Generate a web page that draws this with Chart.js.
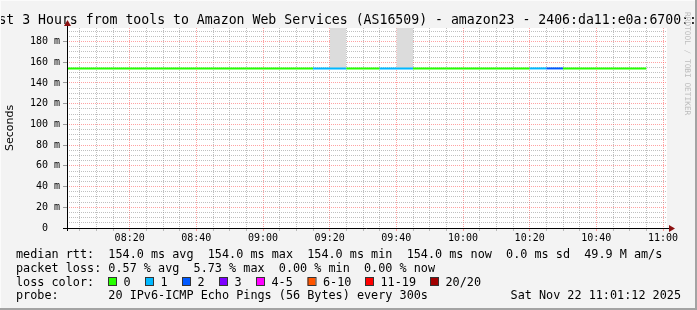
<!DOCTYPE html>
<html>
<head>
<meta charset="utf-8">
<script src="https://cdn.jsdelivr.net/npm/chart.js@4.4.0/dist/chart.umd.min.js"></script>
<style>
    html, body { margin: 0; padding: 0; background: #f3f3f3; }
    #wrap { width: 697px; height: 310px; }
</style>
</head>
<body>
<div id="wrap"><canvas id="smokeChart" width="697" height="310"></canvas></div>
<script>
// 5 minute slots, the last entry only closes the line
const slotTimes = ['08:00','08:05','08:10','08:15','08:20','08:25','08:30','08:35','08:40','08:45',
                   '08:50','08:55','09:00','09:05','09:10','09:15','09:20','09:25','09:30','09:35',
                   '09:40','09:45','09:50','09:55','10:00','10:05','10:10','10:15','10:20','10:25',
                   '10:30','10:35','10:40','10:45','10:50','10:55'];
const medianRtt = [154.0,154.0,154.0,154.0,154.0,154.0,154.0,154.0,154.0,154.0,
                   154.0,154.0,154.0,154.0,154.0,154.0,154.0,154.0,154.0,154.0,
                   154.0,154.0,154.0,154.0,154.0,154.0,154.0,154.0,154.0,154.0,
                   154.0,154.0,154.0,154.0,154.0,154.0];
const lostPings = [0,0,0,0,0,0,0,0,0,0,
                   0,0,0,0,0,1,1,0,0,1,
                   1,0,0,0,0,0,0,0,1,2,
                   0,0,0,0,0,0];
// top of the smoke (slowest ping), above the graph where it is drawn
const smokeTop = [null,null,null,null,null,null,null,null,null,null,
                  null,null,null,null,null,null,240,null,null,null,
                  240,null,null,null,null,null,null,null,null,null,
                  null,null,null,null,null,null];

const xTickLabels = ['08:20','08:40','09:00','09:20','09:40','10:00','10:20','10:40','11:00'];
const yTickValues = [0, 20, 40, 60, 80, 100, 120, 140, 160, 180];
const yTickLabels = ['0  ','20 m','40 m','60 m','80 m','100 m','120 m','140 m','160 m','180 m'];

const lossLabels = ['0', '1', '2', '3', '4-5', '6-10', '11-19', '20/20'];
const lossUpper  = [0, 1, 2, 3, 5, 10, 19, 20];
const lossColors = ['#26ff00', '#00b8ff', '#0059ff', '#7e00ff', '#ff00ff', '#ff5500', '#ff0000', '#a10000'];

const titleText = 'Last 3 Hours from tools to Amazon Web Services (AS16509) - amazon23 - 2406:da11:e0a:6700::';
const statLines = [
    'median rtt:  154.0 ms avg  154.0 ms max  154.0 ms min  154.0 ms now  0.0 ms sd  49.9 M am/s',
    'packet loss: 0.57 % avg  5.73 % max  0.00 % min  0.00 % now'
];
const probeText = 'probe:       20 IPv6-ICMP Echo Pings (56 Bytes) every 300s';
const stampText = 'Sat Nov 22 11:01:12 2025';

const startMin = 1.2, endMin = 181.2;   // 08:01:12 .. 11:01:12

function toMin(s) {
    let p = s.split(':');
    return (parseInt(p[0]) - 8) * 60 + parseInt(p[1]);
}
function lossColor(n) {
    for (let i = 0; i < lossUpper.length; i++)
        if (n <= lossUpper[i]) return lossColors[i];
    return lossColors[lossColors.length - 1];
}

// two points per slot so each slot becomes its own flat step
let medianPts = [];
let smokePts = [];
for (let i = 0; i < slotTimes.length - 1; i++) {
    let a = toMin(slotTimes[i]), b = toMin(slotTimes[i + 1]);
    medianPts.push({x: a, y: medianRtt[i]}, {x: b, y: medianRtt[i]});
    if (smokeTop[i] !== null)
        smokePts.push({x: a, y: smokeTop[i]}, {x: b, y: smokeTop[i]}, {x: b, y: null});
}

let xLabelAt = {};
xTickLabels.forEach(l => { xLabelAt[toMin(l)] = l; });
let yLabelAt = {};
yTickValues.forEach((v, i) => { yLabelAt[v] = yTickLabels[i]; });

const MONO = '"DejaVu Sans Mono", monospace';
const MAJOR = 'rgba(255, 70, 70, 0.5)';
const MINOR = 'rgba(130, 130, 130, 0.5)';

const decor = {
    id: 'decor',
    beforeDraw(chart) {
        const c = chart.ctx, a = chart.chartArea;
        c.save();
        c.fillStyle = '#f3f3f3';
        c.fillRect(0, 0, chart.width, chart.height);
        c.fillStyle = '#ffffff';
        c.fillRect(a.left, a.top, a.right - a.left, a.bottom - a.top);
        c.restore();
    },
    afterDraw(chart) {
        const c = chart.ctx, a = chart.chartArea;
        c.save();
        // axes with arrows
        c.strokeStyle = '#000';
        c.lineWidth = 1;
        c.beginPath();
        c.moveTo(a.left - 4, a.bottom + 0.5);
        c.lineTo(a.right + 3, a.bottom + 0.5);
        c.moveTo(a.left + 0.5, a.bottom + 3);
        c.lineTo(a.left + 0.5, a.top - 3);
        c.stroke();
        c.fillStyle = '#8b1010';
        c.beginPath();
        c.moveTo(a.right + 2, a.bottom - 3);
        c.lineTo(a.right + 8, a.bottom + 0.5);
        c.lineTo(a.right + 2, a.bottom + 4);
        c.closePath();
        c.fill();
        c.beginPath();
        c.moveTo(a.left - 3, a.top - 2);
        c.lineTo(a.left + 0.5, a.top - 8);
        c.lineTo(a.left + 4, a.top - 2);
        c.closePath();
        c.fill();

        // title, clipped at the canvas edges
        c.fillStyle = '#000';
        c.font = '13.2px ' + MONO;
        c.textBaseline = 'alphabetic';
        c.textAlign = 'left';
        c.fillText(titleText, -17.5, 23.5);

        // watermark
        c.save();
        c.translate(687, 12);
        c.rotate(Math.PI / 2);
        c.fillStyle = '#bcbcbc';
        c.font = '7.8px ' + MONO;
        c.textBaseline = 'middle';
        c.fillText('RRDTOOL / TOBI OETIKER', 0, 0);
        c.restore();

        // statistics
        c.fillStyle = '#000';
        c.font = '11.8px ' + MONO;
        c.fillText(statLines[0], 16, 258);
        c.fillText(statLines[1], 16, 271.8);
        c.fillText('loss color:', 16, 285.6);
        const boxX = [108, 145, 182, 219, 256, 307.5, 365, 430];
        lossLabels.forEach((l, i) => {
            c.fillStyle = lossColors[i];
            c.fillRect(boxX[i], 277.5, 8, 8);
            c.strokeStyle = '#333';
            c.strokeRect(boxX[i] + 0.5, 277.5, 8, 8);
            c.fillStyle = '#000';
            c.fillText(l, boxX[i] + 15.5, 285.6);
        });
        c.fillText(probeText, 16, 299.4);
        c.textAlign = 'right';
        c.fillText(stampText, 681, 299.4);

        // frame
        c.fillStyle = '#a3a3a3';
        c.fillRect(chart.width - 2, 0, 2, chart.height);
        c.fillRect(0, chart.height - 2, chart.width, 2);
        c.fillStyle = '#fbfbfb';
        c.fillRect(0, 0, chart.width - 2, 1);
        c.fillRect(0, 0, 1, chart.height - 2);
        c.restore();
    }
};

const config = {
    type: 'line',
    data: {
        datasets: [{
                label: 'median rtt',
                data: medianPts,
                borderWidth: 2,
                pointRadius: 0,
                fill: false,
                segment: {
                    borderColor: ctx => lossColor(lostPings[Math.floor(ctx.p0DataIndex / 2)])
                },
                borderColor: lossColors[0]
            }, {
                label: 'smoke',
                data: smokePts,
                borderWidth: 0,
                pointRadius: 0,
                spanGaps: false,
                fill: 0,
                backgroundColor: '#dcdcdc'
            }]
    },
    options: {
        responsive: false,
        animation: false,
        devicePixelRatio: 1,
        layout: {padding: {left: 0, right: 30, top: 28, bottom: 0}},
        plugins: {
            legend: {display: false},
            tooltip: {enabled: false},
            title: {display: false}
        },
        scales: {
            x: {
                type: 'linear',
                min: startMin,
                max: endMin,
                afterBuildTicks: s => {
                    let t = [];
                    for (let m = 5; m <= 180; m += 5) t.push({value: m});
                    s.ticks = t;
                },
                afterFit: s => { s.height = 82; },
                ticks: {
                    autoSkip: false,
                    maxRotation: 0,
                    padding: 1,
                    color: '#000',
                    font: {family: MONO, size: 10},
                    callback: v => xLabelAt[v] || ''
                },
                grid: {
                    color: ctx => ctx.tick.value % 20 === 0 ? MAJOR : MINOR,
                    tickColor: ctx => ctx.tick.value % 20 === 0 ? MAJOR : MINOR,
                    tickLength: 3
                },
                border: {display: false, dash: [1, 1]}
            },
            y: {
                min: 0,
                max: 193,
                afterBuildTicks: s => {
                    let t = [];
                    for (let v = 0; v <= 190; v += 5) t.push({value: v});
                    s.ticks = t;
                },
                afterFit: s => { s.width = 67; },
                ticks: {
                    autoSkip: false,
                    padding: 3,
                    color: '#000',
                    font: {family: MONO, size: 10},
                    callback: v => yLabelAt[v] || ''
                },
                grid: {
                    color: ctx => ctx.tick.value % 20 === 0 ? MAJOR : MINOR,
                    tickColor: ctx => ctx.tick.value % 20 === 0 ? '#999' : 'rgba(0,0,0,0)',
                    tickLength: 4
                },
                border: {display: false, dash: [1, 1]},
                title: {
                    display: true,
                    text: 'Seconds',
                    color: '#000',
                    font: {family: '"DejaVu Sans", sans-serif', size: 11},
                    padding: {top: 4, bottom: 0}
                }
            }
        }
    },
    plugins: [decor]
};

new Chart(document.getElementById('smokeChart').getContext('2d'), config);
</script>
</body>
</html>
